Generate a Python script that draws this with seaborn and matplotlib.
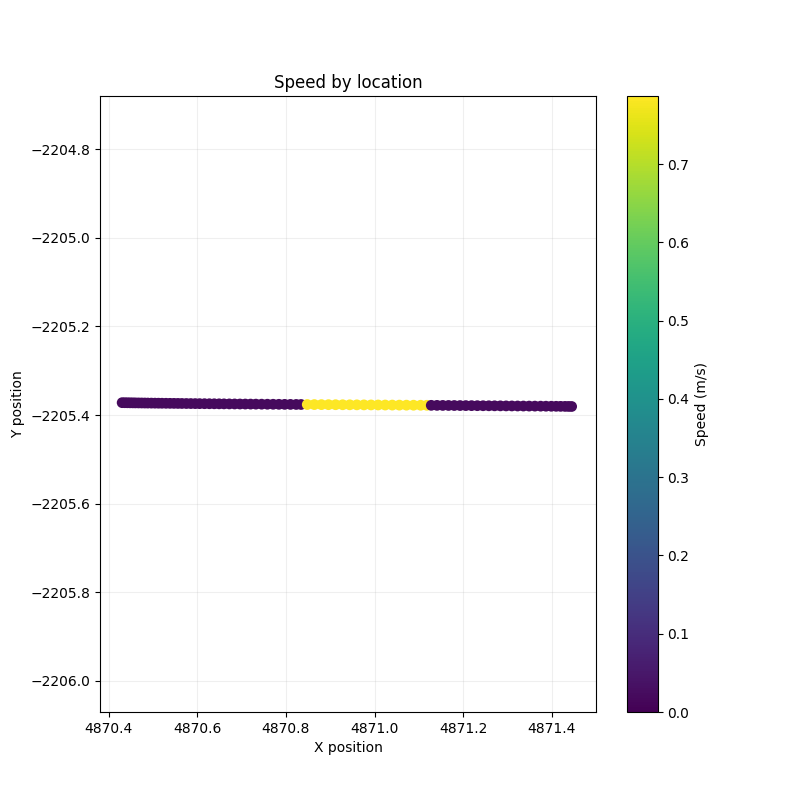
import numpy as np
import pandas as pd
import matplotlib
matplotlib.use("Agg")
import matplotlib.pyplot as plt
import seaborn as sns

x_left = [4870.430, 4870.436, 4870.442, 4870.448, 4870.454, 4870.460, 4870.467, 4870.474,
          4870.481, 4870.488, 4870.496, 4870.504, 4870.512, 4870.520, 4870.529, 4870.538,
          4870.547, 4870.556, 4870.565, 4870.575, 4870.585, 4870.595, 4870.605, 4870.616,
          4870.627, 4870.638, 4870.649, 4870.660, 4870.672, 4870.684, 4870.696, 4870.708,
          4870.720, 4870.732, 4870.745, 4870.758, 4870.771, 4870.784, 4870.797, 4870.810,
          4870.823, 4870.834]
y_left = [-2205.3720, -2205.3721, -2205.3722, -2205.3723, -2205.3724, -2205.3725, -2205.3726,
          -2205.3727, -2205.3728, -2205.3729, -2205.3730, -2205.3731, -2205.3732, -2205.3733,
          -2205.3734, -2205.3735, -2205.3736, -2205.3737, -2205.3738, -2205.3739, -2205.3740,
          -2205.3741, -2205.3742, -2205.3743, -2205.3744, -2205.3745, -2205.3746, -2205.3747,
          -2205.3748, -2205.3749, -2205.3750, -2205.3751, -2205.3752, -2205.3753, -2205.3754,
          -2205.3755, -2205.3756, -2205.3757, -2205.3758, -2205.3759, -2205.3760, -2205.3761]
x_mid = [4870.848, 4870.864, 4870.880, 4870.896, 4870.912, 4870.928, 4870.944, 4870.960,
         4870.976, 4870.992, 4871.008, 4871.024, 4871.040, 4871.056, 4871.072, 4871.088,
         4871.104, 4871.118]
y_mid = [-2205.3762, -2205.3763, -2205.3764, -2205.3765, -2205.3766, -2205.3767, -2205.3768,
         -2205.3769, -2205.3770, -2205.3771, -2205.3772, -2205.3773, -2205.3774, -2205.3775,
         -2205.3776, -2205.3777, -2205.3778, -2205.3779]
x_right = [4871.128, 4871.141, 4871.154, 4871.167, 4871.180, 4871.193, 4871.206, 4871.219,
           4871.232, 4871.245, 4871.258, 4871.271, 4871.284, 4871.297, 4871.310, 4871.323,
           4871.336, 4871.349, 4871.362, 4871.375, 4871.387, 4871.399, 4871.410, 4871.420,
           4871.430, 4871.438, 4871.445]
y_right = [-2205.3780, -2205.3781, -2205.3782, -2205.3783, -2205.3784, -2205.3785, -2205.3786,
           -2205.3787, -2205.3788, -2205.3789, -2205.3790, -2205.3791, -2205.3792, -2205.3793,
           -2205.3794, -2205.3795, -2205.3796, -2205.3797, -2205.3798, -2205.3799, -2205.3800,
           -2205.3801, -2205.3802, -2205.3803, -2205.3804, -2205.3805, -2205.3806]
speed_slow = 0.02
speed_fast = 0.787

df = pd.DataFrame({
    "x": x_left + x_mid + x_right,
    "y": y_left + y_mid + y_right,
    "speed": [speed_slow] * len(x_left) + [speed_fast] * len(x_mid) + [speed_slow] * len(x_right),
})

vmin, vmax = 0.0, speed_fast
norm = plt.Normalize(vmin, vmax)

fig, ax = plt.subplots(figsize=(8, 8), dpi=100)
sns.scatterplot(data=df, x="x", y="y", hue="speed", hue_norm=norm, palette="viridis",
                s=60, linewidth=0, legend=False, ax=ax, zorder=3)
ax.set_aspect("equal", adjustable="datalim")
ax.set_xlim(4870.38, 4871.50)
ax.set_ylim(-2206.07, -2204.68)
ax.grid(True, alpha=0.2)
ax.set_xlabel("X position")
ax.set_ylabel("Y position")
ax.set_title("Speed by location")

sm = plt.cm.ScalarMappable(cmap="viridis", norm=norm)
cb = fig.colorbar(sm, ax=ax)
cb.set_label("Speed (m/s)")

fig.savefig("out.png")
